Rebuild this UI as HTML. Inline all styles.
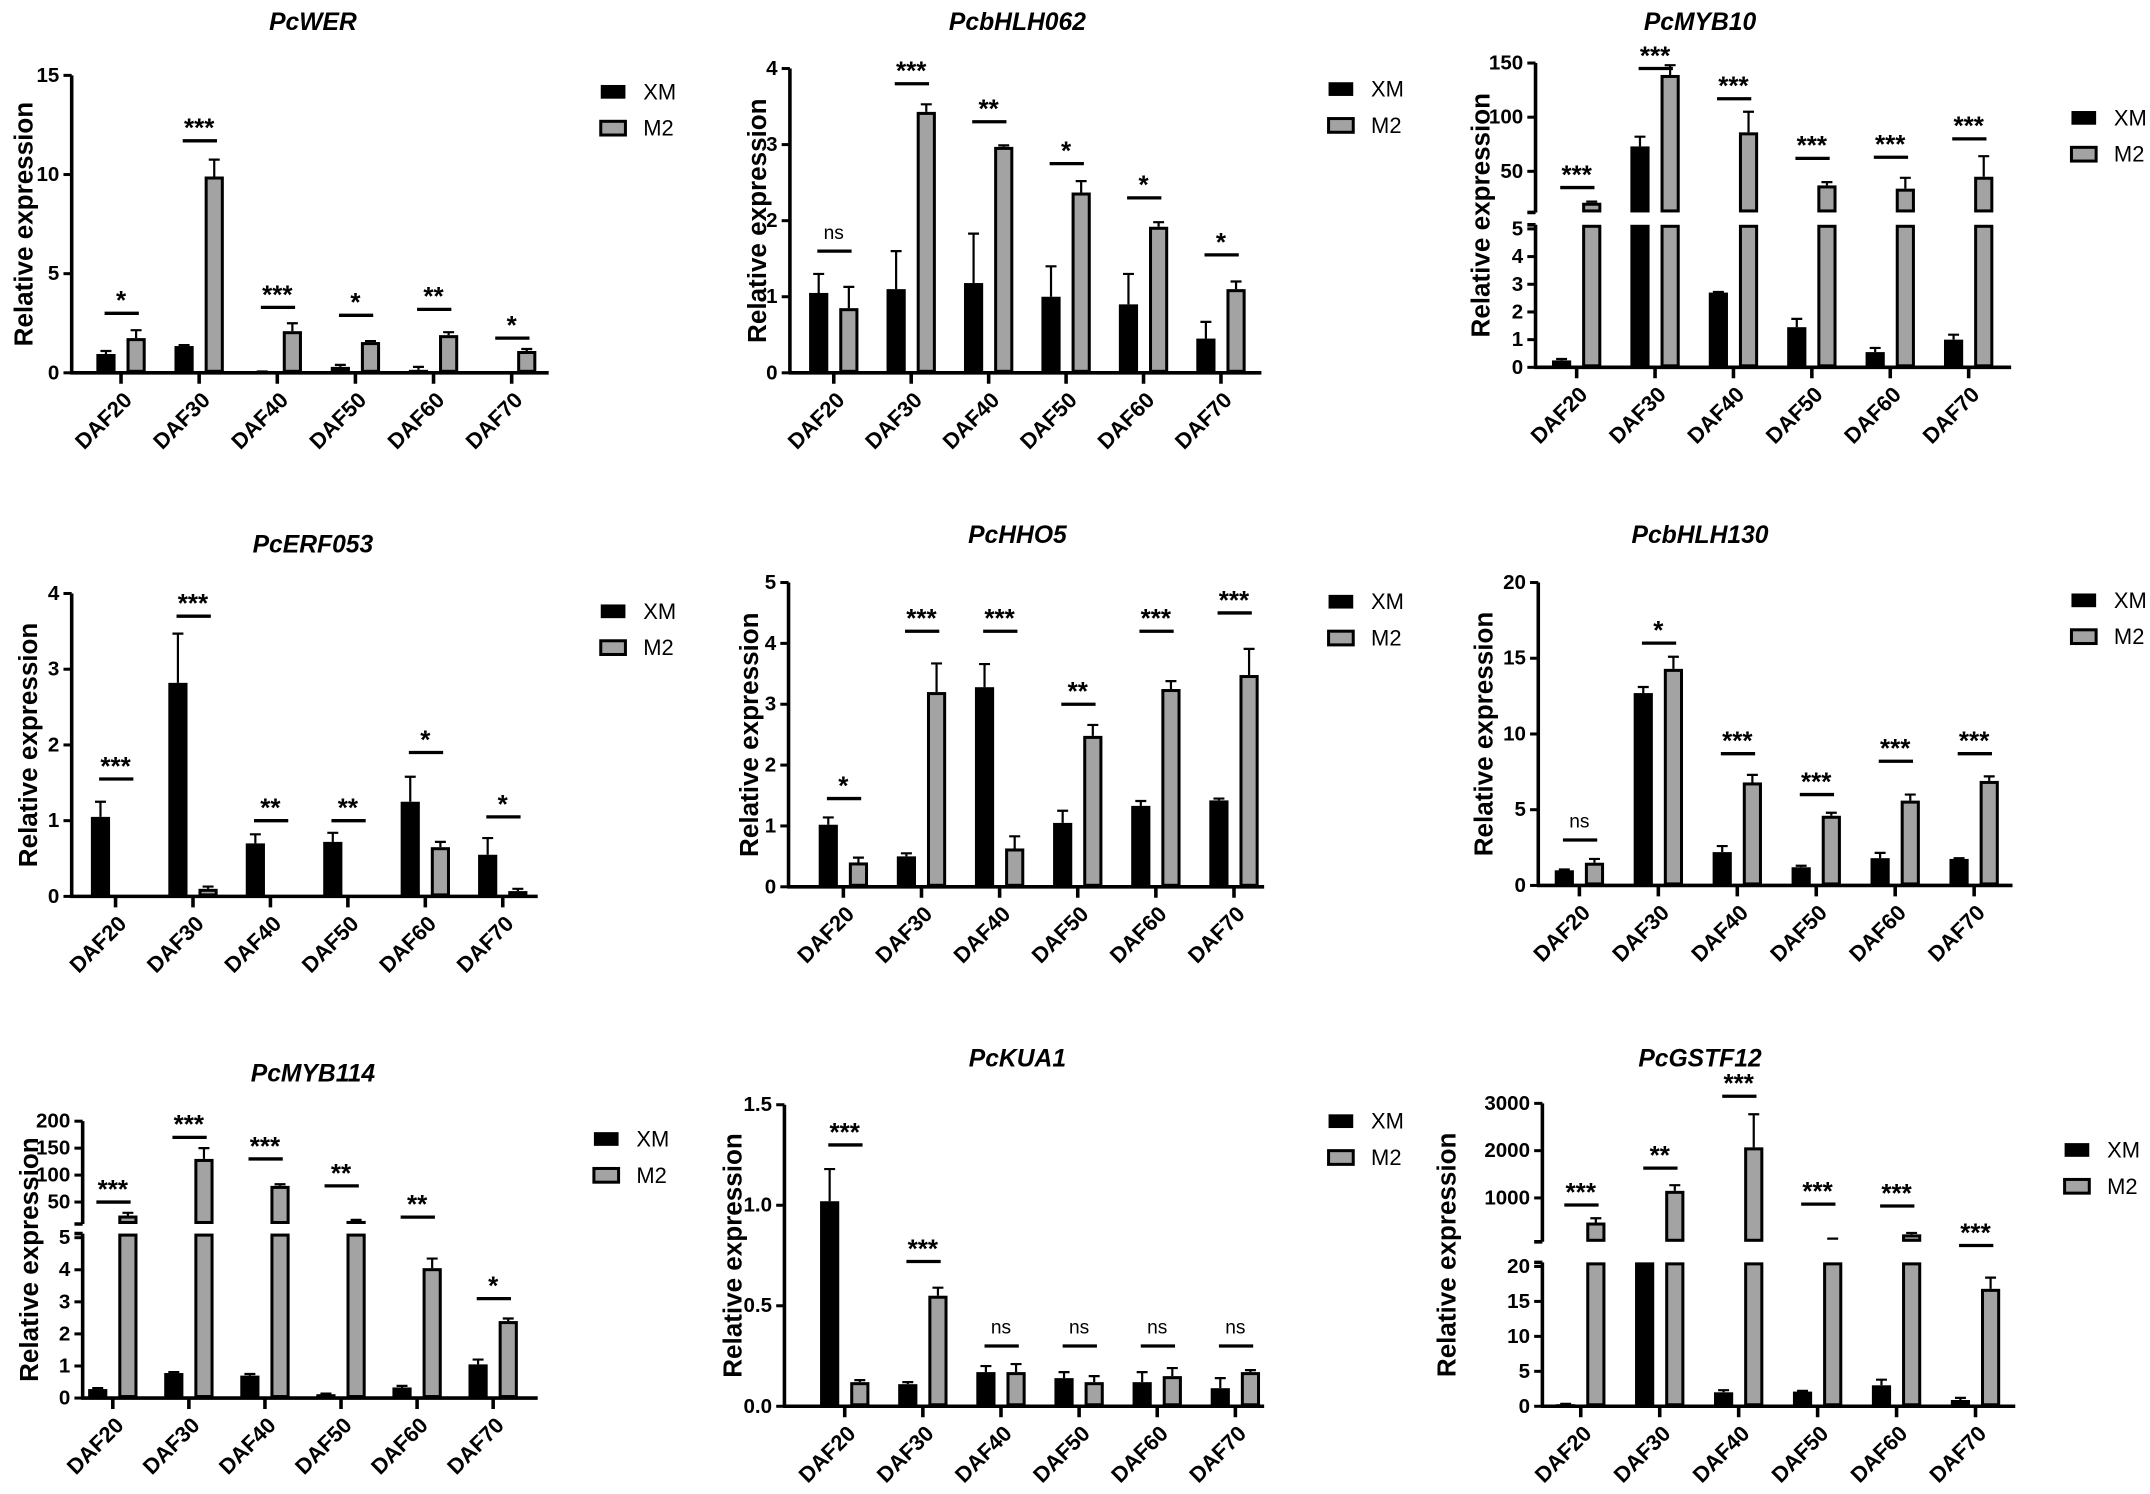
<!DOCTYPE html>
<html><head><meta charset="utf-8"><style>
html,body{margin:0;padding:0;background:#fff;}
svg{display:block;font-family:"Liberation Sans",Arial,sans-serif;}
</style></head><body>
<svg id="fig" width="2150" height="1494" viewBox="0 0 1568 1090" xmlns="http://www.w3.org/2000/svg"></svg>
<script>
const categories = ["DAF20","DAF30","DAF40","DAF50","DAF60","DAF70"];
const seriesNames = ["XM","M2"];
// PcWER
const werXM = [0.95,1.35,0.05,0.3,0.15,0];
const werXMErr = [0.15,0.05,0.02,0.1,0.15,0];
const werM2 = [1.75,9.9,2.1,1.55,1.9,1.1];
const werM2Err = [0.4,0.85,0.4,0.05,0.15,0.1];
const werSig = ["*","***","***","*","**","*"];
const werSigY = [3.0,11.7,3.3,2.9,3.2,1.75];
const werTicks = [0,5,10,15];
// PcbHLH062
const b062XM = [1.05,1.1,1.18,1.0,0.9,0.45];
const b062XMErr = [0.25,0.5,0.65,0.4,0.4,0.22];
const b062M2 = [0.85,3.43,2.97,2.37,1.92,1.1];
const b062M2Err = [0.28,0.1,0.02,0.15,0.06,0.1];
const b062Sig = ["ns","***","**","*","*","*"];
const b062SigY = [1.6,3.8,3.3,2.75,2.3,1.55];
const b062Ticks = [0,1,2,3,4];
// PcMYB10
const myb10XM = [0.25,73,2.7,1.45,0.55,1.0];
const myb10XMErr = [0.05,9,0.02,0.3,0.15,0.18];
const myb10M2 = [21,139,86,37,34,45];
const myb10M2Err = [1,9,19,3,10,19];
const myb10Sig = ["***","***","***","***","***","***"];
const myb10SigY = [35,145,117,62,63,80];
const myb10LowTicks = [0,1,2,3,4,5];
const myb10UpTicks = [50,100,150];
// PcERF053
const erfXM = [1.05,2.82,0.7,0.72,1.25,0.55];
const erfXMErr = [0.2,0.65,0.12,0.12,0.33,0.22];
const erfM2 = [0.02,0.1,0,0,0.65,0.07];
const erfM2Err = [0,0.03,0,0,0.07,0.03];
const erfSig = ["***","***","**","**","*","*"];
const erfSigY = [1.55,3.7,1.0,1.0,1.9,1.05];
const erfTicks = [0,1,2,3,4];
// PcHHO5
const hhoXM = [1.02,0.5,3.28,1.05,1.33,1.42];
const hhoXMErr = [0.12,0.05,0.38,0.2,0.08,0.03];
const hhoM2 = [0.4,3.2,0.63,2.48,3.25,3.48];
const hhoM2Err = [0.08,0.47,0.2,0.18,0.13,0.43];
const hhoSig = ["*","***","***","**","***","***"];
const hhoSigY = [1.45,4.2,4.2,3.0,4.2,4.5];
const hhoTicks = [0,1,2,3,4,5];
// PcbHLH130
const b130XM = [1.0,12.7,2.2,1.2,1.8,1.75];
const b130XMErr = [0.05,0.4,0.4,0.1,0.35,0.05];
const b130M2 = [1.5,14.3,6.8,4.6,5.6,6.9];
const b130M2Err = [0.25,0.8,0.5,0.2,0.4,0.3];
const b130Sig = ["ns","*","***","***","***","***"];
const b130SigY = [3,16,8.7,6,8.2,8.7];
const b130Ticks = [0,5,10,15,20];
// PcMYB114
const myb114XM = [0.28,0.78,0.7,0.12,0.33,1.05];
const myb114XMErr = [0.03,0.03,0.05,0.02,0.05,0.15];
const myb114M2 = [25,130,80,15,4.05,2.4];
const myb114M2Err = [5,20,3,2,0.3,0.08];
const myb114Sig = ["***","***","***","**","**","*"];
const myb114SigY = [50,170,130,80,22,3.1];
const myb114LowTicks = [0,1,2,3,4,5];
const myb114UpTicks = [50,100,150,200];
// PcKUA1
const kuaXM = [1.02,0.11,0.17,0.14,0.12,0.09];
const kuaXMErr = [0.16,0.01,0.03,0.03,0.05,0.05];
const kuaM2 = [0.12,0.55,0.17,0.12,0.15,0.17];
const kuaM2Err = [0.01,0.04,0.04,0.03,0.04,0.01];
const kuaSig = ["***","***","ns","ns","ns","ns"];
const kuaSigY = [1.3,0.72,0.3,0.3,0.3,0.3];
const kuaTicks = [0,0.5,1.0,1.5];
const kuaTickLabels = ["0.0","0.5","1.0","1.5"];
// PcGSTF12
const gstXM = [0.3,80,2.0,2.1,3.0,0.9];
const gstXMErr = [0.05,0,0.3,0.1,0.8,0.3];
const gstM2 = [480,1150,2070,130,230,16.8];
const gstM2Err = [90,120,700,10,30,1.6];
const gstSig = ["***","**","***","***","***","***"];
const gstSigY = [850,1630,3150,870,830,23];
const gstLowTicks = [0,5,10,15,20];
const gstUpTicks = [1000,2000,3000];

const panels = [
 {key:"wer",title:"PcWER",tx:228,ty:22,ax:52,x1:400,y0:272,lowMax:15,lowTop:55,lowTicks:werTicks,first:88,step:57,lx:437,ly:67,ylx:17,xm:werXM,xme:werXMErr,m2:werM2,m2e:werM2Err,sig:werSig,sigy:werSigY},
 {key:"bhlh062",title:"PcbHLH062",tx:742,ty:22,ax:576,x1:920,y0:272,lowMax:4,lowTop:50,lowTicks:b062Ticks,first:608,step:56.5,lx:968,ly:65,ylx:552,xm:b062XM,xme:b062XMErr,m2:b062M2,m2e:b062M2Err,sig:b062Sig,sigy:b062SigY},
 {key:"myb10",title:"PcMYB10",tx:1240,ty:22,ax:1120,x1:1467,y0:268,lowMax:5,lowTop:167,lowTicks:myb10LowTicks,first:1150,step:57.2,lx:1510,ly:86,ylx:1080,
  up:{v1:150,p1:46,v2:50,p2:125,bottom:155,ticks:myb10UpTicks},xm:myb10XM,xme:myb10XMErr,m2:myb10M2,m2e:myb10M2Err,sig:myb10Sig,sigy:myb10SigY},
 {key:"erf053",title:"PcERF053",tx:228,ty:403,ax:52,x1:392,y0:654,lowMax:4,lowTop:433,lowTicks:erfTicks,first:84,step:56.5,lx:437,ly:446,ylx:20,xm:erfXM,xme:erfXMErr,m2:erfM2,m2e:erfM2Err,sig:erfSig,sigy:erfSigY},
 {key:"hho5",title:"PcHHO5",tx:742,ty:396,ax:575,x1:922,y0:647,lowMax:5,lowTop:425,lowTicks:hhoTicks,first:615,step:57,lx:968,ly:439,ylx:546,xm:hhoXM,xme:hhoXMErr,m2:hhoM2,m2e:hhoM2Err,sig:hhoSig,sigy:hhoSigY},
 {key:"bhlh130",title:"PcbHLH130",tx:1240,ty:396,ax:1122,x1:1468,y0:646,lowMax:20,lowTop:425,lowTicks:b130Ticks,first:1152,step:57.6,lx:1510,ly:438,ylx:1082,xm:b130XM,xme:b130XMErr,m2:b130M2,m2e:b130M2Err,sig:b130Sig,sigy:b130SigY},
 {key:"myb114",title:"PcMYB114",tx:228,ty:789,ax:60,x1:392,y0:1020,lowMax:5,lowTop:903,lowTicks:myb114LowTicks,first:82,step:55.5,lx:432,ly:831,ylx:21,
  up:{v1:200,p1:818,v2:50,p2:877,bottom:893,ticks:myb114UpTicks},xm:myb114XM,xme:myb114XMErr,m2:myb114M2,m2e:myb114M2Err,sig:myb114Sig,sigy:myb114SigY},
 {key:"kua1",title:"PcKUA1",tx:742,ty:778,ax:572,x1:922,y0:1026,lowMax:1.5,lowTop:806,lowTicks:kuaTicks,lowLabels:kuaTickLabels,first:616,step:57,lx:968,ly:818,ylx:534,xm:kuaXM,xme:kuaXMErr,m2:kuaM2,m2e:kuaM2Err,sig:kuaSig,sigy:kuaSigY},
 {key:"gstf12",title:"PcGSTF12",tx:1240,ty:778,ax:1125,x1:1470,y0:1026,lowMax:20,lowTop:924,lowTicks:gstLowTicks,first:1153,step:57.6,lx:1505,ly:839,ylx:1055,
  up:{v1:3000,p1:805,v2:1000,p2:874,bottom:906,ticks:gstUpTicks},xm:gstXM,xme:gstXMErr,m2:gstM2,m2e:gstM2Err,sig:gstSig,sigy:gstSigY}
];

const NS="http://www.w3.org/2000/svg";
const fig=document.getElementById("fig");
function el(tag,parent){const e=document.createElementNS(NS,tag);parent.appendChild(e);return e;}
function attrs(e,o){for(const k in o)e.setAttribute(k,o[k]);return e;}

panels.forEach(p=>{
  const g=el("g",fig);
  
  
  const lowScale=v=>p.y0-(v/p.lowMax)*(p.y0-p.lowTop);
  const upScale=p.up?(v=>p.up.p1+(v-p.up.v1)*(p.up.p2-p.up.p1)/(p.up.v2-p.up.v1)):null;
  const yv=v=>{ if(!p.up||v<=p.lowMax*1.2) return lowScale(v); return upScale(v); };
  const cx=i=>p.first+i*p.step;

  const t=el("text",g);
  
  
  attrs(t,{x:p.tx,y:p.ty,"text-anchor":"middle","font-size":"18","font-weight":"bold","font-style":"italic"});
  t.textContent=p.title;

  const midY=(p.y0+(p.up?p.up.p1:p.lowTop))/2;
  const yt=el("text",g);
  
  
  attrs(yt,{x:p.ylx,y:midY,"text-anchor":"middle","font-size":"19","font-weight":"bold",transform:`rotate(-90 ${p.ylx} ${midY})`,"dominant-baseline":"central"});
  yt.textContent="Relative expression";

  const bw=14;
  [[p.xm,p.xme,"#000","xm",-11],[p.m2,p.m2e,"#a3a3a3","m2",11]].forEach(([vals,errs,fill,sn,off])=>{
    vals.forEach((v,i)=>{
      const x=cx(i)+off-bw/2;
      const segs=[];
      if(p.up&&v>p.lowMax*1.2){
        segs.push([p.lowTop-3,p.y0]);
        segs.push([upScale(v),p.up.bottom]);
      } else segs.push([lowScale(v),p.y0]);
      segs.forEach(([top,bot])=>{
        if(bot-top<0.3)return;
        const r=el("rect",g);
        
        
        const sw=sn==="m2"?2.2:0;
        attrs(r,{x:x+sw/2,y:top+sw/2,width:bw-sw,height:Math.max(0,bot-top-sw),fill:fill,stroke:"#000","stroke-width":sw});
      });
      const e=errs[i];
      if(e>0){
        const yTop=yv(v+e), yB=yv(v);
        const eb=el("path",g);
        
        
        attrs(eb,{d:`M${cx(i)+off} ${yB}V${yTop}M${cx(i)+off-4} ${yTop}H${cx(i)+off+4}`,stroke:"#000","stroke-width":"1.6",fill:"none"});
      }
    });
  });

  const ax=el("path",g);
  
  
  let d=`M${p.ax} ${p.y0}V${p.lowTop-(p.up?3:0)}`;
  if(p.up) d+=`M${p.ax-6} ${p.lowTop-3}H${p.ax}M${p.ax-6} ${p.up.bottom}H${p.ax}M${p.ax} ${p.up.bottom}V${p.up.p1}`;
  attrs(ax,{d:d,stroke:"#000","stroke-width":"2.6",fill:"none"});
  const xa=el("path",g);
  
  
  let dx=`M${p.ax-1} ${p.y0}H${p.x1}`;
  categories.forEach((c,i)=>{dx+=`M${cx(i)} ${p.y0}v8`;});
  attrs(xa,{d:dx,stroke:"#000","stroke-width":"2.6",fill:"none"});

  const tickList=[];
  p.lowTicks.forEach((v,i)=>tickList.push([lowScale(v),p.lowLabels?p.lowLabels[i]:String(v)]));
  if(p.up) p.up.ticks.forEach(v=>tickList.push([upScale(v),String(v)]));
  tickList.forEach(([y,lab])=>{
    const tk=el("path",g);
    
    
    attrs(tk,{d:`M${p.ax-6} ${y}H${p.ax}`,stroke:"#000","stroke-width":"2.2"});
    const tl=el("text",g);
    
    
    attrs(tl,{x:p.ax-9,y:y,"text-anchor":"end","dominant-baseline":"central","font-size":"15","font-weight":"bold"});
    tl.textContent=lab;
  });

  categories.forEach((c,i)=>{
    const xl=el("text",g);
    
    
    const X=cx(i)+5, Y=p.y0+17;
    attrs(xl,{x:X,y:Y,"text-anchor":"end","dominant-baseline":"central","font-size":"16","font-weight":"bold",transform:`rotate(-45 ${X} ${Y})`});
    xl.textContent=c;
  });

  p.sig.forEach((s,i)=>{
    const y=yv(p.sigy[i]);
    const ln=el("path",g);
    
    
    attrs(ln,{d:`M${cx(i)-12} ${y}H${cx(i)+13}`,stroke:"#000","stroke-width":"2.4"});
    const st=el("text",g);
    
    
    attrs(st,{x:cx(i),y:s==="ns"?y-9:y-3,"text-anchor":"middle","font-size":s==="ns"?"14":"19","font-weight":s==="ns"?"normal":"bold"});
    st.textContent=s;
  });

  seriesNames.forEach((n,i)=>{
    const ly=p.ly+i*26.5;
    const lb=el("rect",g);
    
    
    attrs(lb,{x:p.lx+1,y:ly-5,width:18,height:10,fill:i?"#a3a3a3":"#000",stroke:"#000","stroke-width":i?2.2:0});
    const lt=el("text",g);
    
    
    attrs(lt,{x:p.lx+32,y:ly,"dominant-baseline":"central","font-size":"16"});
    lt.textContent=n;
  });
});
</script>
</body></html>
